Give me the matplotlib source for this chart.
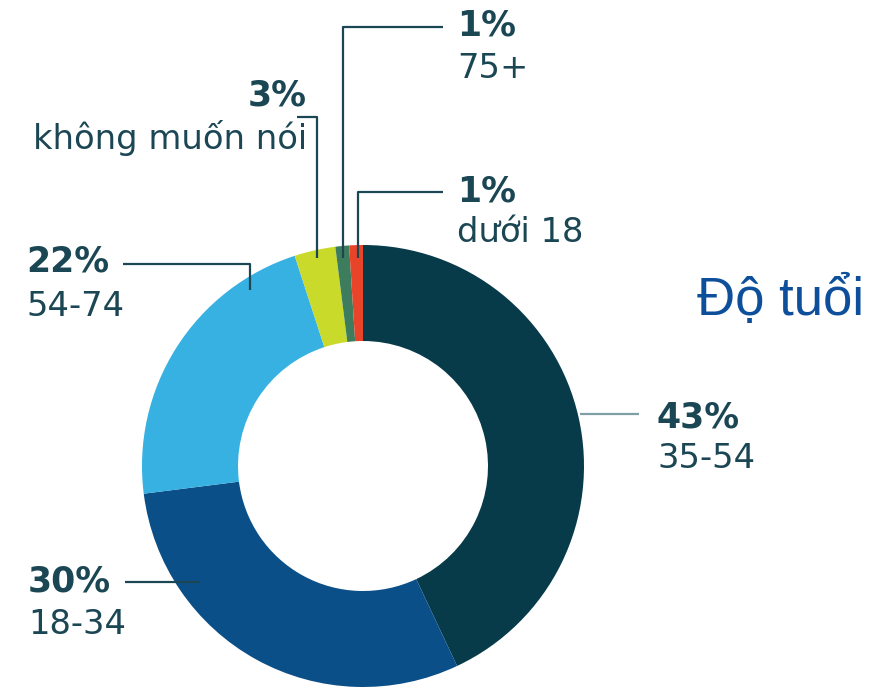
import matplotlib
matplotlib.use('Agg')
import matplotlib.pyplot as plt

# ============================================================
#  Dữ liệu
# ============================================================
age_groups = ['35-54', '18-34', '54-74', 'không muốn nói', '75+', 'dưới 18']
shares = [43, 30, 22, 3, 1, 1]
colors = ['#073b4a', '#0b4f88', '#36b1e2', '#c9da2b', '#3d7c5c', '#e8442a']
title = 'Độ tuổi'

# ============================================================
#  Bố cục (toạ độ pixel, trục y hướng xuống)
# ============================================================
CX, CY = 363, 466
R_OUT, R_IN = 221, 125
TXT = '#1b4654'

# vị trí nhãn: (x, y dòng %, y dòng tên, căn lề)
label_pos = {
    '35-54': (657, 417, 459, 'left'),
    '18-34': (28, 582, 624, 'left'),
    '54-74': (26, 262, 307, 'left'),
    'không muốn nói': (307, 95, 138, 'right'),
    '75+': (457, 25, 68, 'left'),
    'dưới 18': (457, 191, 232, 'left'),
}
# đường dẫn nhãn
leaders = {
    '35-54': ([580, 639], [414, 414], '#7f9ea6'),
    '18-34': ([125, 200], [582, 582], TXT),
    '54-74': ([123, 250, 250], [264, 264, 290], TXT),
    'không muốn nói': ([297, 317, 317], [117, 117, 258], TXT),
    '75+': ([443, 343, 343], [27, 27, 258], TXT),
    'dưới 18': ([443, 358, 358], [192, 192, 258], TXT),
}

fig = plt.figure(figsize=(8.94, 6.89), dpi=100)
ax = fig.add_axes([0, 0, 1, 1])
ax.axis('off')

# y đảo ngược -> startangle=-90 là đỉnh, counterclock=True là chiều kim đồng hồ
ax.pie(shares, colors=colors, center=(CX, CY), radius=R_OUT,
       startangle=-90, counterclock=True,
       wedgeprops=dict(width=R_OUT - R_IN, linewidth=0))
ax.set_xlim(0, 894)
ax.set_ylim(689, 0)

for name, (xs, ys, c) in leaders.items():
    ax.plot(xs, ys, color=c, lw=1.6, solid_capstyle='butt', zorder=3)

for name, val in zip(age_groups, shares):
    x, y1, y2, ha = label_pos[name]
    ax.text(x, y1, f'{val}%', fontsize=25, fontweight='bold', color=TXT,
            ha=ha, va='center', family='DejaVu Sans')
    ax.text(x, y2, name, fontsize=24.3, color=TXT,
            ha=ha, va='center', family='DejaVu Sans')

ax.text(697, 300, title, fontsize=38, color='#0d4f9b', ha='left', va='center',
        family='Liberation Sans')

fig.savefig('out.png', dpi=100)
